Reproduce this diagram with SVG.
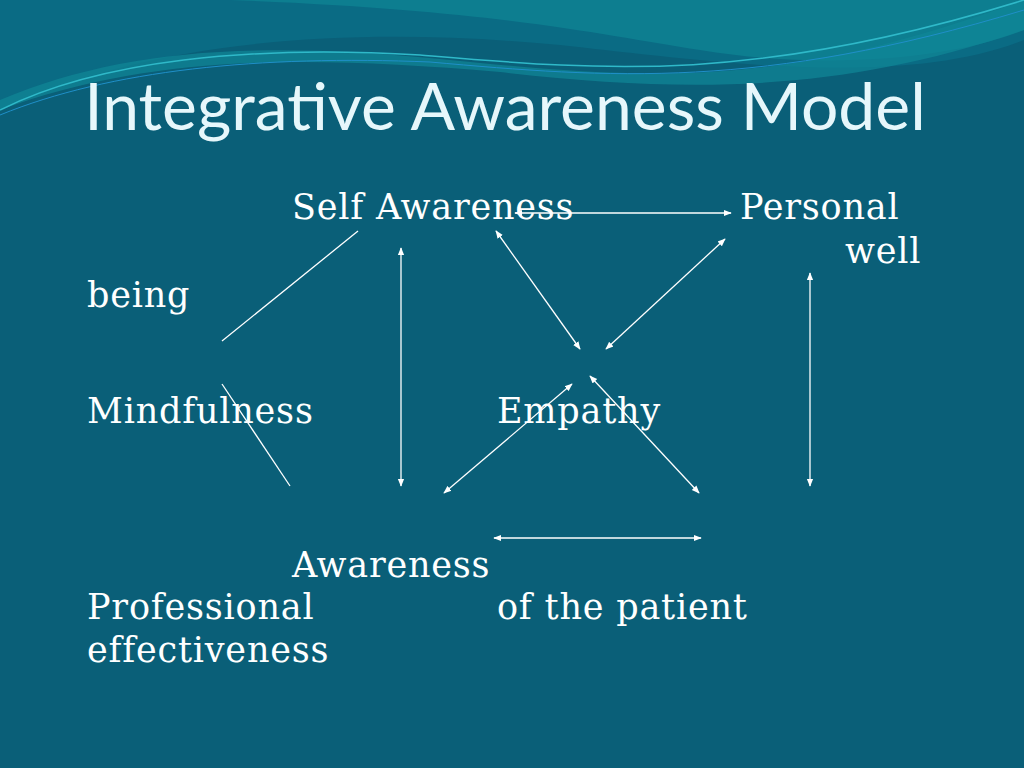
<svg xmlns="http://www.w3.org/2000/svg" width="1024" height="768" viewBox="0 0 1024 768">
<defs>
<marker id="a" viewBox="0 0 10 10" refX="9" refY="5" markerWidth="8" markerHeight="8" orient="auto-start-reverse" markerUnits="userSpaceOnUse"><path d="M0,1 L10,5 L0,9 z" fill="#fff"/></marker>
</defs>
<style>
.t{font-family:"DejaVu Serif","Noto Serif",serif;font-size:35px;fill:#fff;letter-spacing:0.8px}
.c line{stroke:#fff;stroke-width:1.3}
.b{marker-start:url(#a);marker-end:url(#a)}
</style>
<rect width="1024" height="768" fill="#0a5f78"/>
<path d="M0,0 H1024 V40 C900,90 700,60 560,45 C350,25 150,40 0,110 Z" fill="#0a6b84"/>
<path d="M230,0 H1024 V30 C950,60 820,70 700,50 C600,35 500,10 230,0 Z" fill="#0d7e90"/>
<path d="M0,100 C120,50 250,40 450,60 C650,80 780,90 1024,0 V30 C850,90 700,95 500,72 C300,55 150,55 0,110 Z" fill="#0f8797" opacity="0.7"/>
<path d="M0,110 C100,60 250,45 420,55 C600,70 750,85 1024,0" fill="none" stroke="#2fb9c9" stroke-width="1.5"/>
<path d="M0,115 C110,70 260,55 430,62 C610,78 760,90 1024,10" fill="none" stroke="#1f8fc8" stroke-width="1"/>
<text x="505" y="130" text-anchor="middle" font-family="Lato,'Open Sans',sans-serif" font-size="66" fill="#e6f7fb">Integrative Awareness Model</text>
<g id="self"><text class="t" x="292" y="219">Self Awareness</text></g>
<g id="personal"><text class="t" x="740" y="219">Personal</text><text class="t" x="845" y="263">well</text><text class="t" x="87" y="307">being</text></g>
<g id="mind"><text class="t" x="87" y="423">Mindfulness</text></g>
<g id="empathy"><text class="t" x="497" y="423">Empathy</text></g>
<g id="prof"><text class="t" x="87" y="619">Professional</text><text class="t" x="87" y="662">effectiveness</text></g>
<g id="patient"><text class="t" x="292" y="577">Awareness</text><text class="t" x="497" y="619">of the patient</text></g>
<g class="c">
<line class="b" x1="515" y1="213" x2="731" y2="213"/>
<line x1="222" y1="341" x2="358" y2="231"/>
<line x1="222" y1="384" x2="290" y2="486"/>
<line class="b" x1="401" y1="248" x2="401" y2="486"/>
<line class="b" x1="496" y1="231" x2="580" y2="349"/>
<line class="b" x1="725" y1="239" x2="606" y2="349"/>
<line class="b" x1="572" y1="384" x2="444" y2="493"/>
<line class="b" x1="590" y1="376" x2="699" y2="493"/>
<line class="b" x1="810" y1="273" x2="810" y2="486"/>
<line class="b" x1="494" y1="538" x2="701" y2="538"/>
</g>
</svg>
